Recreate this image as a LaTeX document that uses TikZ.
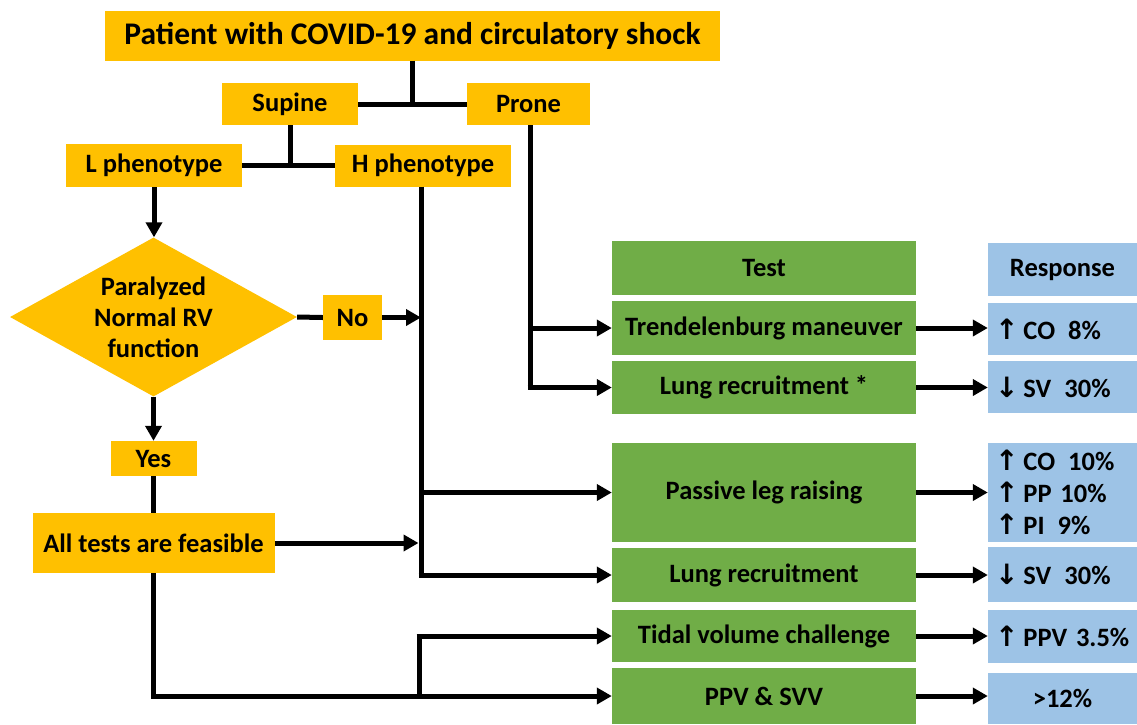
\documentclass[tikz,border=0pt]{standalone}
\usepackage{fontspec}
\setmainfont{Carlito}
\newfontfamily\arrowfont{DejaVu Sans}
\usetikzlibrary{arrows.meta,shapes.geometric}
\definecolor{gold}{HTML}{FFC000}
\definecolor{leaf}{HTML}{70AD47}
\definecolor{sky}{HTML}{9DC3E6}
\newcommand\arrup{{\arrowfont\fontsize{28}{28}\selectfont ↑}\hspace{5pt}}
\newcommand\arrdown{{\arrowfont\fontsize{28}{28}\selectfont ↓}\hspace{5pt}}
\newcommand\gap{\hspace{13pt}}
\begin{document}
\begin{tikzpicture}[x=1pt,y=-1pt,
  txt/.style={font=\fontsize{26.5}{31}\selectfont\bfseries},
  ybox/.style={txt,fill=gold,inner sep=0pt,align=center},
  gbox/.style={txt,fill=leaf,inner sep=0pt,align=center,minimum width=304pt},
  bbox/.style={txt,fill=sky,inner xsep=7pt,inner ysep=0pt,text width=135pt,align=left},
  link/.style={line width=5pt},
  arr/.style={link,-{Triangle[length=15pt,width=16pt]}}]
\useasboundingbox (0,0) rectangle (1137,724);

% decision column
\node[ybox,minimum width=615pt,minimum height=50pt,font=\fontsize{31.5}{36}\selectfont\bfseries] (title) at (412.5,35.5) {Patient with COVID-19 and circulatory shock};
\node[ybox,minimum width=136pt,minimum height=42pt] (supine) at (290,104) {Supine};
\node[ybox,minimum width=123pt,minimum height=42pt] (prone) at (528.5,104) {Prone};
\node[ybox,minimum width=176pt,minimum height=43pt] (lph) at (154,165.5) {L phenotype};
\node[ybox,minimum width=176pt,minimum height=42pt] (hph) at (423,165.5) {H phenotype};
\node[diamond,fill=gold,inner sep=0pt,minimum width=287pt,minimum height=159pt] (rv) at (153.5,317) {};
\node[txt,align=center] (rvtext) at (rv.center) {Paralyzed\\Normal RV\\function};
\node[ybox,minimum width=59pt,minimum height=45pt] (no) at (352.5,317.5) {No};
\node[ybox,minimum width=86pt,minimum height=35pt] (yes) at (153.5,458.5) {Yes};
\node[ybox,minimum width=242pt,minimum height=60pt] (all) at (153.5,543) {All tests are feasible};

% tests
\node[gbox,minimum height=54pt] (test) at (764,268) {Test};
\node[gbox,minimum height=54pt] (trend) at (764,328) {Trendelenburg maneuver};
\node[gbox,minimum height=53pt] (lrstar) at (764,387.5) {Lung recruitment *};
\node[gbox,minimum height=99pt] (plr) at (764,492.5) {Passive leg raising};
\node[gbox,minimum height=54pt] (lr) at (764,575) {Lung recruitment};
\node[gbox,minimum height=52pt] (tidal) at (764,636) {Tidal volume challenge};
\node[gbox,minimum height=56pt] (ppv) at (764,696) {PPV \& SVV};

% responses
\node[bbox,align=center,minimum height=53pt] (resp) at (1062.5,269.5) {Response};
\node[bbox,minimum height=52pt] (rtrend) at (1062.5,329) {\arrup CO\gap 8\%};
\node[bbox,minimum height=52pt] (rlrstar) at (1062.5,387) {\arrdown SV\gap 30\%};
\node[bbox,minimum height=99pt,font=\fontsize{26.5}{32}\selectfont\bfseries] (rplr) at (1062.5,492.5) {\arrup CO\gap 10\%\\\arrup PP 10\%\\\arrup PI\gap 9\%};
\node[bbox,minimum height=55pt] (rlr) at (1062.5,574.5) {\arrdown SV\gap 30\%};
\node[bbox,minimum height=53pt] (rtidal) at (1062.5,636.5) {\arrup PPV 3.5\%};
\node[bbox,align=center,minimum height=51pt] (rppv) at (1062.5,698.5) {>12\%};

% junction points
\coordinate (j1) at (title.south |- supine.east);
\coordinate (j2) at (supine.south |- lph.east);
\coordinate (hx) at (421,0);
\coordinate (vx) at (419,0);

% tree branches
\draw[link] (title.south) -- (j1);
\draw[link] (supine.east) -- (prone.west);
\draw[link] (supine.south) -- (j2);
\draw[link] (lph.east) -- (hph.west);
\draw[arr] (lph.south) -- (lph.south |- rv.north);
\draw[link] (rv.east) -- (no.west);
\draw[arr] (no.east) -- (no.east -| hx);
\draw[arr] (rv.south) -- (yes.north);
\draw[link] (yes.south) -- (all.north);
\draw[arr] (all.east) -- ([xshift=-2.5pt]all.east -| hx);

% H phenotype line
\draw[link] (hph.south -| hx) -- (lr.west -| hx);
\draw[arr] ([xshift=-2.5pt]lr.west -| hx) -- (lr.west);
\draw[arr] (plr.west -| hx) -- (plr.west);

% prone line
\draw[link] (prone.south -| 530,0) -- (lrstar.west -| 530,0);
\draw[arr] ([xshift=-2.5pt]lrstar.west -| 530,0) -- (lrstar.west);
\draw[arr] (trend.west -| 530,0) -- (trend.west);

% all tests line
\draw[link] (all.south) -- (all.south |- ppv.west);
\draw[arr] ([xshift=-2.5pt]all.south |- ppv.west) -- (ppv.west);
\draw[link] (ppv.west -| vx) -- (tidal.west -| vx);
\draw[arr] ([xshift=-2.5pt]tidal.west -| vx) -- (tidal.west);

% test to response
\foreach \a/\b in {trend/rtrend,lrstar/rlrstar,plr/rplr,lr/rlr,tidal/rtidal,ppv/rppv}
  \draw[arr] (\a.east) -- (\a.east -| \b.west);
\end{tikzpicture}
\end{document}
